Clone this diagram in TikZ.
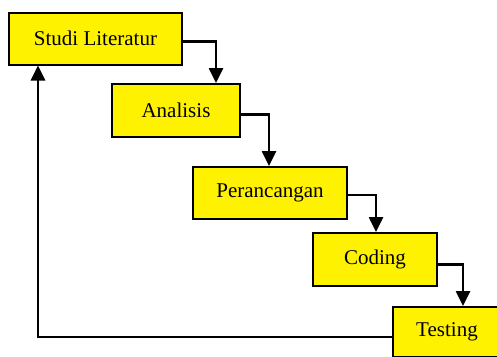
\documentclass[tikz,border=0pt]{standalone}
\usepackage{fontspec}
\setmainfont{Liberation Serif}
\usetikzlibrary{arrows.meta}
\tikzstyle{tahap}=[rectangle,draw=black,line width=2pt,fill=yellow,inner sep=0pt,font=\fontsize{21}{25}\selectfont]
\tikzstyle{alur}=[line width=2.6pt,-{Triangle[length=15pt,width=14pt]}]

\begin{document}
\begin{tikzpicture}[x=1pt,y=-1pt]
\useasboundingbox (0,0) rectangle (497,356);
\node[tahap,minimum width=173pt,minimum height=52pt] (studi) at (95.5,38.5) {Studi Literatur};
\node[tahap,minimum width=128pt,minimum height=53pt] (analisis) at (176,110.5) {Analisis};
\node[tahap,minimum width=154pt,minimum height=52pt] (rancang) at (270,193) {Perancangan};
\node[tahap,minimum width=124pt,minimum height=53pt] (coding) at (375,259.5) {Coding};
\node[tahap,minimum width=108pt,minimum height=50pt] (testing) at (447,332) {Testing};
\draw[alur] ([yshift=-3pt]studi.east) -| ([xshift=40pt]analisis.north);
\draw[alur] ([yshift=-4pt]analisis.east) -| ([xshift=-1pt]rancang.north);
\draw[alur] ([yshift=-2pt]rancang.east) -| ([xshift=1pt]coding.north);
\draw[alur] ([yshift=-5pt]coding.east) -| ([xshift=16pt]testing.north);
\draw[alur] ([yshift=-5pt]testing.west) -| ([xshift=-57.5pt]studi.south);
\end{tikzpicture}
\end{document}
